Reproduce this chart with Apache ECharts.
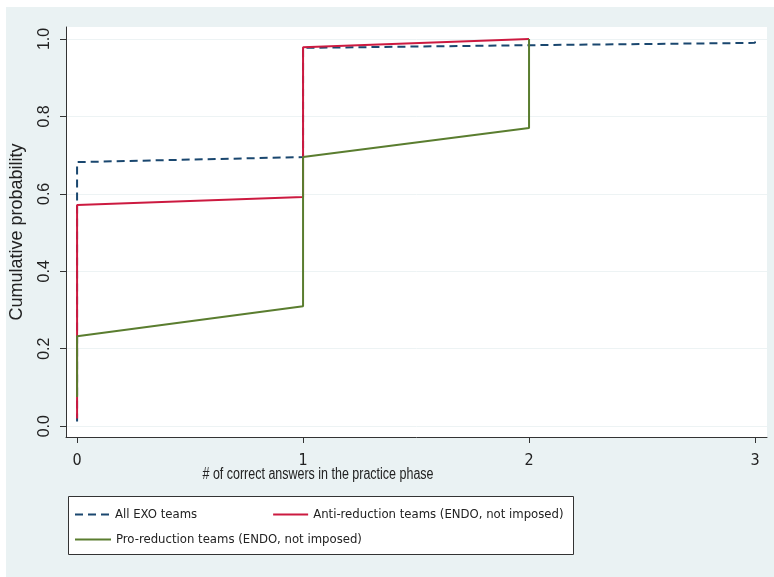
<!DOCTYPE html>
<html>
<head>
<meta charset="utf-8">
<script src="https://cdn.jsdelivr.net/npm/echarts@6/dist/echarts.min.js"></script>
<style>
  html, body { margin: 0; padding: 0; background: #fff; }
  #chart { width: 774px; height: 577px; }
</style>
</head>
<body>
<div id="chart"></div>
<script>
var seriesNames = ['All EXO teams', 'Anti-reduction teams (ENDO, not imposed)', 'Pro-reduction teams (ENDO, not imposed)'];

// step points
var exoX = [0, 0, 1, 1, 2, 3, 3];
var exoY = [0.012, 0.682, 0.695, 0.977, 0.984, 0.99, 1.0];
var antiX = [0, 0, 1, 1, 2];
var antiY = [0.02, 0.571, 0.592, 0.979, 1.0];
var proX = [0, 0, 1, 1, 2, 2];
var proY = [0.075, 0.232, 0.31, 0.695, 0.77, 1.0];

var xTicks = [0, 1, 2, 3];
var yTicks = [0, 0.2, 0.4, 0.6, 0.8, 1.0];

var condensed = '"DejaVu Sans Condensed", "Liberation Sans", sans-serif';
var regular = '"Liberation Sans", Arial, sans-serif';

function pairs(xs, ys) {
  var out = [];
  for (var i = 0; i < xs.length; i++) {
    out.push([xs[i], ys[i]]);
  }
  return out;
}

var chart = echarts.init(document.getElementById('chart'));

var legendText = { fontSize: 13, fontFamily: condensed, color: '#222' };

var option = {
  animation: false,
  backgroundColor: '#fff',
  graphic: [
    {
      type: 'rect',
      z: -10,
      shape: { x: 6, y: 7, width: 768, height: 570 },
      style: { fill: '#eaf2f3' }
    },
    {
      type: 'rect',
      z: 1,
      shape: { x: 68.5, y: 496.5, width: 505, height: 58 },
      style: { fill: '#fff', stroke: '#333', lineWidth: 1 }
    },
    {
      // x axis title, squeezed like the original
      type: 'text',
      z: 2,
      x: 318,
      y: 475,
      scaleX: 0.78,
      style: {
        text: '# of correct answers in the practice phase',
        font: '16px ' + regular,
        fill: '#222',
        align: 'center',
        verticalAlign: 'middle'
      }
    }
  ],
  grid: {
    left: 66,
    top: 27,
    right: 7,
    bottom: 140,
    show: true,
    backgroundColor: '#fff',
    borderWidth: 0,
    containLabel: false,
    outerBoundsMode: 'none'
  },
  xAxis: {
    type: 'value',
    min: -0.049,
    max: 3.053,
    axisLine: { show: true, onZero: false, lineStyle: { color: '#333', width: 1 } },
    axisTick: { show: true, length: 6, customValues: xTicks, lineStyle: { color: '#333' } },
    axisLabel: {
      customValues: xTicks,
      margin: 16,
      color: '#222',
      fontSize: 16,
      fontFamily: condensed
    },
    splitLine: { show: false }
  },
  yAxis: {
    type: 'value',
    min: -0.028,
    max: 1.031,
    name: 'Cumulative probability',
    nameLocation: 'middle',
    nameGap: 40,
    nameTextStyle: { fontSize: 18, fontFamily: regular, color: '#222' },
    axisLine: { show: true, onZero: false, lineStyle: { color: '#333', width: 1 } },
    axisTick: { show: true, length: 6, customValues: yTicks, lineStyle: { color: '#333' } },
    axisLabel: {
      customValues: yTicks,
      rotate: 90,
      margin: 13,
      color: '#222',
      fontSize: 16,
      fontFamily: regular,
      formatter: function (v) { return v.toFixed(1); }
    },
    splitLine: { show: true, lineStyle: { color: '#edf3f4', width: 1 } }
  },
  legend: [
    {
      data: [seriesNames[0], seriesNames[1]],
      left: 74,
      top: 508,
      padding: 0,
      itemGap: 75,
      itemWidth: 35,
      itemHeight: 14,
      itemStyle: { opacity: 0 },
      z: 3,
      textStyle: legendText
    },
    {
      data: [seriesNames[2]],
      left: 74,
      top: 533,
      padding: 0,
      itemWidth: 36,
      itemHeight: 14,
      itemStyle: { opacity: 0 },
      z: 3,
      textStyle: legendText
    }
  ],
  series: [
    {
      name: seriesNames[0],
      type: 'line',
      data: pairs(exoX, exoY),
      showSymbol: false,
      symbol: 'none',
      lineStyle: { color: '#1a476f', width: 2, type: [8, 5] },
      itemStyle: { color: '#1a476f' },
      z: 2
    },
    {
      name: seriesNames[1],
      type: 'line',
      data: pairs(antiX, antiY),
      showSymbol: false,
      symbol: 'none',
      lineStyle: { color: '#cc1a40', width: 2 },
      itemStyle: { color: '#cc1a40' },
      z: 3
    },
    {
      name: seriesNames[2],
      type: 'line',
      data: pairs(proX, proY),
      showSymbol: false,
      symbol: 'none',
      lineStyle: { color: '#5a7d2f', width: 2 },
      itemStyle: { color: '#5a7d2f' },
      z: 4
    }
  ]
};

chart.setOption(option);
</script>
</body>
</html>
